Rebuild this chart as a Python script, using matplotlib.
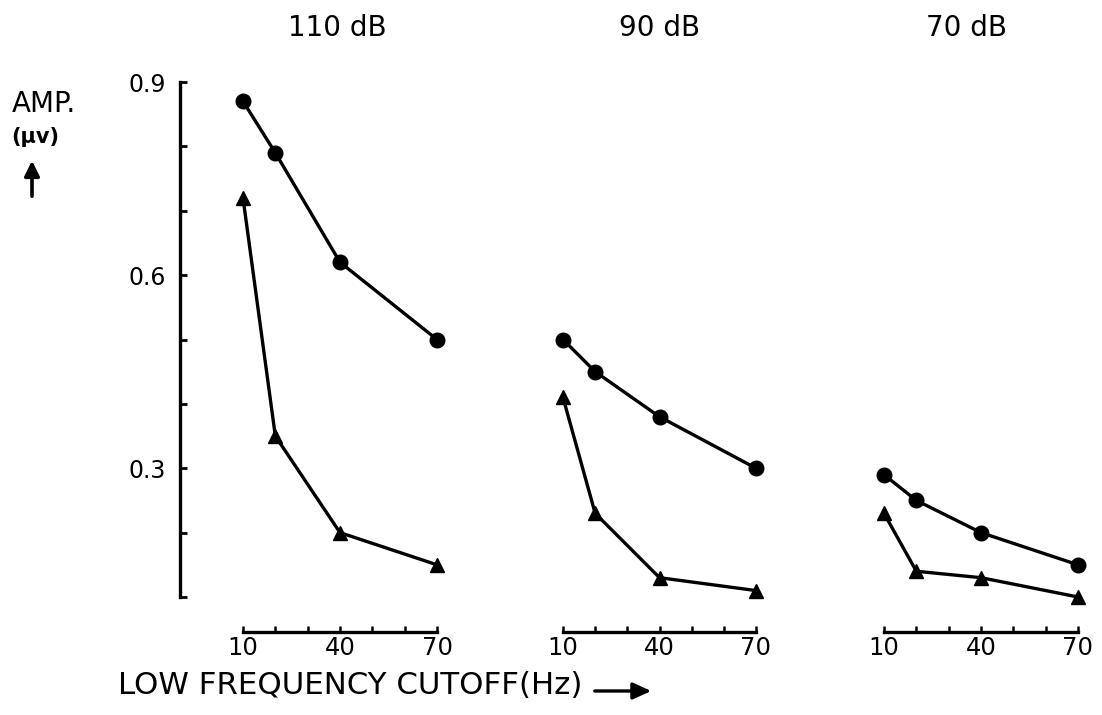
import matplotlib
matplotlib.use("Agg")
import matplotlib.pyplot as plt
from matplotlib.patches import FancyArrowPatch
from matplotlib.ticker import FixedLocator, NullFormatter

# ---- data -------------------------------------------------------------
cutoff_hz = [10, 20, 40, 70]
stimulus_levels = ["110 dB", "90 dB", "70 dB"]

amp_circle_110 = [0.87, 0.79, 0.62, 0.50]
amp_triangle_110 = [0.72, 0.35, 0.20, 0.15]
amp_circle_90 = [0.50, 0.45, 0.38, 0.30]
amp_triangle_90 = [0.41, 0.23, 0.13, 0.11]
amp_circle_70 = [0.29, 0.25, 0.20, 0.15]
amp_triangle_70 = [0.23, 0.14, 0.13, 0.10]

y_major_ticks = [0.3, 0.6, 0.9]
y_minor_ticks = [0.1, 0.2, 0.4, 0.5, 0.7, 0.8]
x_major_ticks = [10, 40, 70]
x_minor_ticks = [20, 30, 50, 60]

circles = [amp_circle_110, amp_circle_90, amp_circle_70]
triangles = [amp_triangle_110, amp_triangle_90, amp_triangle_70]

# ---- layout (pixels) --------------------------------------------------
W, H = 1102, 715
DPI = 100
panel_px = [(243, 437), (563, 756), (884, 1078)]   # x of 10 Hz and 70 Hz
y_top_px, y_low_px, x_axis_px = 82, 597, 632       # y of 0.9, 0.1 and the x axis line
spine_x_px = 180

px_per_unit = (y_low_px - y_top_px) / 0.8
y_bottom_val = 0.1 - (x_axis_px - y_low_px) / px_per_unit

plt.rcParams["font.family"] = ["DejaVu Sans"]
fig = plt.figure(figsize=(W / DPI, H / DPI), dpi=DPI)
fig.patch.set_facecolor("white")

LW_AX = 2.4
px2pt = 72.0 / DPI

for i, (x0, x1) in enumerate(panel_px):
    ax = fig.add_axes([x0 / W, (H - x_axis_px) / H, (x1 - x0) / W,
                       (x_axis_px - y_top_px) / H])
    ax.set_xlim(10, 70)
    ax.set_ylim(y_bottom_val, 0.9)
    ax.patch.set_alpha(0)

    for s in ("top", "right"):
        ax.spines[s].set_visible(False)

    # x axis: a short bar under each panel with ticks pointing up
    ax.spines["bottom"].set_bounds(10, 70)
    ax.spines["bottom"].set_linewidth(LW_AX)
    ax.xaxis.set_major_locator(FixedLocator(x_major_ticks))
    ax.xaxis.set_minor_locator(FixedLocator(x_minor_ticks))
    ax.xaxis.set_minor_formatter(NullFormatter())
    ax.tick_params(axis="x", which="both", direction="in", length=4,
                   width=1.8, labelsize=17.5, pad=3)

    if i == 0:
        sp = ax.spines["left"]
        sp.set_position(("outward", (x0 - spine_x_px) * px2pt))
        sp.set_bounds(0.1, 0.9)
        sp.set_linewidth(LW_AX)
        ax.yaxis.set_major_locator(FixedLocator(y_major_ticks))
        ax.yaxis.set_minor_locator(FixedLocator(y_minor_ticks))
        ax.yaxis.set_minor_formatter(NullFormatter())
        ax.set_yticklabels([f"{v:.1f}" for v in y_major_ticks])
        ax.tick_params(axis="y", which="both", direction="in", length=5,
                       width=2.0, labelsize=17, pad=10)
    else:
        ax.spines["left"].set_visible(False)
        ax.tick_params(axis="y", which="both", left=False, labelleft=False)

    ax.plot(cutoff_hz, circles[i], color="black", lw=2.4, marker="o",
            markersize=10.5, clip_on=False, zorder=3)
    ax.plot(cutoff_hz, triangles[i], color="black", lw=2.4, marker="^",
            markersize=10.5, clip_on=False, zorder=3)

# panel titles
title_x_px = [337, 660, 966]
for label, xp in zip(stimulus_levels, title_x_px):
    fig.text(xp / W, 1 - 28 / H, label, ha="center", va="center",
             fontsize=20)

# y axis caption
fig.text(12 / W, 1 - 104 / H, "AMP.", ha="left", va="center", fontsize=20)
fig.text(11 / W, 1 - 137 / H, "(µv)", ha="left", va="center", fontsize=15,
         fontweight="bold")
fig.patches.append(FancyArrowPatch(
    (32 / W, 1 - 199 / H), (32 / W, 1 - 158 / H), transform=fig.transFigure,
    arrowstyle="-|>,head_length=9,head_width=4.5", lw=2.6, color="black",
    mutation_scale=1))

# x axis caption
fig.text(118 / W, 1 - 686 / H, "LOW FREQUENCY CUTOFF(Hz)", ha="left",
         va="center", fontsize=22.2)
fig.patches.append(FancyArrowPatch(
    (592 / W, 1 - 691 / H), (654 / W, 1 - 691 / H), transform=fig.transFigure,
    arrowstyle="-|>,head_length=11,head_width=5", lw=2.4, color="black",
    mutation_scale=1))

fig.savefig("out.png", dpi=DPI, facecolor="white")
